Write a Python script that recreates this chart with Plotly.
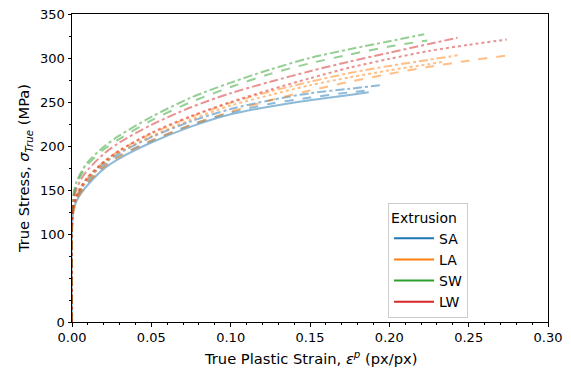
import plotly.graph_objects as go

# Strain grids (px/px) and true stress (MPa)
eps_a = [0, 0, 0.001, 0.003, 0.006, 0.01, 0.02, 0.03, 0.05, 0.075, 0.10, 0.125, 0.15, 0.175, 0.194]
sa_dashdot = [0, 110, 130, 142, 152, 162, 180, 192, 210, 228, 242, 252, 260, 265, 269]
eps_b = [0, 0, 0.001, 0.003, 0.006, 0.01, 0.02, 0.03, 0.05, 0.075, 0.10, 0.125, 0.15, 0.175, 0.186]
sa_dash = [0, 108, 129, 141, 150, 159, 177, 189, 206, 224, 238, 248, 255, 261, 263]
eps_c = [0, 0, 0.001, 0.003, 0.006, 0.01, 0.02, 0.03, 0.05, 0.075, 0.10, 0.125, 0.15, 0.175, 0.187]
sa_solid = [0, 105, 128, 138, 147, 156, 174, 186, 204, 222, 236, 245, 252, 258, 261]

eps_la1 = [0, 0, 0.001, 0.003, 0.006, 0.01, 0.02, 0.03, 0.05, 0.075, 0.10, 0.125, 0.15, 0.175, 0.20, 0.225, 0.243]
la_dashdot = [0, 110, 130, 143, 154, 164, 182, 195, 214, 233, 249, 262, 273, 283, 291, 298, 303]
eps_la2 = [0, 0, 0.001, 0.003, 0.006, 0.01, 0.02, 0.03, 0.05, 0.075, 0.10, 0.125, 0.15, 0.175, 0.20, 0.225, 0.235]
la_dot = [0, 108, 129, 141, 152, 162, 180, 193, 211, 230, 246, 258, 269, 278, 286, 293, 296]
eps_la3 = [0, 0, 0.001, 0.003, 0.006, 0.01, 0.02, 0.03, 0.05, 0.075, 0.10, 0.125, 0.15, 0.175, 0.20, 0.225, 0.25, 0.275]
la_dash = [0, 100, 126, 138, 148, 158, 176, 188, 206, 224, 239, 252, 263, 273, 282, 290, 297, 303]

eps_sw1 = [0, 0, 0.001, 0.003, 0.006, 0.01, 0.02, 0.03, 0.05, 0.075, 0.10, 0.125, 0.15, 0.175, 0.20, 0.222]
sw_dashdot = [0, 128, 146, 160, 171, 182, 199, 212, 233, 255, 272, 287, 300, 310, 319, 327]
eps_sw2 = [0, 0, 0.001, 0.003, 0.006, 0.01, 0.02, 0.03, 0.05, 0.075, 0.10, 0.125, 0.15, 0.175, 0.20, 0.224]
sw_dash = [0, 124, 143, 157, 168, 179, 196, 208, 229, 250, 267, 282, 294, 304, 313, 320]

eps_lw1 = [0, 0, 0.001, 0.003, 0.006, 0.01, 0.02, 0.03, 0.05, 0.075, 0.10, 0.125, 0.15, 0.175, 0.20, 0.225, 0.243]
lw_dashdot = [0, 120, 138, 152, 163, 173, 191, 204, 224, 244, 260, 273, 285, 296, 306, 316, 323]
eps_lw2 = [0, 0, 0.001, 0.003, 0.006, 0.01, 0.02, 0.03, 0.05, 0.075, 0.10, 0.125, 0.15, 0.175, 0.20, 0.225, 0.25, 0.274]
lw_dot = [0, 116, 132, 145, 155, 165, 182, 195, 215, 234, 250, 264, 277, 289, 299, 308, 315, 321]

groups = ["SA", "LA", "SW", "LW"]
colors = {"SA": "#1f77b4", "LA": "#ff7f0e", "SW": "#2ca02c", "LW": "#d62728"}

curves = [
    ("SA", eps_a, sa_dashdot, "dashdot"),
    ("SA", eps_b, sa_dash, "dash"),
    ("SA", eps_c, sa_solid, "solid"),
    ("LA", eps_la1, la_dashdot, "dashdot"),
    ("LA", eps_la2, la_dot, "dot"),
    ("LA", eps_la3, la_dash, "dash"),
    ("SW", eps_sw1, sw_dashdot, "dashdot"),
    ("SW", eps_sw2, sw_dash, "dash"),
    ("LW", eps_lw1, lw_dashdot, "dashdot"),
    ("LW", eps_lw2, lw_dot, "dot"),
]

fig = go.Figure()
for g, x, y, d in curves:
    fig.add_trace(go.Scatter(x=x, y=y, mode="lines", opacity=0.5,
                             line=dict(color=colors[g], width=2, dash=d,
                                       shape="spline", smoothing=0.8),
                             showlegend=False, hoverinfo="skip"))
for g in groups:
    fig.add_trace(go.Scatter(x=[None], y=[None], mode="lines", name=g,
                             line=dict(color=colors[g], width=2)))

font = "DejaVu Sans"
fig.update_layout(
    width=571, height=368,
    margin=dict(l=72, r=23, t=14, b=46),
    paper_bgcolor="white", plot_bgcolor="white",
    font=dict(family=font, size=13, color="black"),
    legend=dict(title=dict(text="Extrusion", font=dict(size=14)),
                font=dict(size=14),
                x=0.664, y=0.385, xanchor="left", yanchor="top",
                bordercolor="#cccccc", borderwidth=1, bgcolor="rgba(255,255,255,0.8)",
                tracegroupgap=0, itemwidth=40),
)
fig.add_annotation(text="True Plastic Strain, <i>ε<sup>p</sup></i> (px/px)",
                   xref="paper", yref="paper", x=0.5, y=0, xanchor="center", yanchor="top",
                   yshift=-24, showarrow=False, font=dict(size=14.7))
fig.update_xaxes(range=[0, 0.30], tickvals=[0, 0.05, 0.10, 0.15, 0.20, 0.25, 0.30],
                 ticktext=["0.00", "0.05", "0.10", "0.15", "0.20", "0.25", "0.30"],
                 ticks="outside", ticklen=3.5, tickcolor="black",
                 minor=dict(dtick=0.01, tick0=0, ticks="outside", ticklen=2, tickcolor="black"),
                 showline=True, linecolor="black", linewidth=1, mirror=True,
                 showgrid=False, zeroline=False, automargin=False,
                 ticklabeloverflow="allow")
fig.update_yaxes(range=[0, 350], tickvals=[0, 100, 150, 200, 250, 300, 350],
                 ticks="outside", ticklen=3.5, tickcolor="black",
                 minor=dict(dtick=25, tick0=0, ticks="outside", ticklen=2, tickcolor="black"),
                 showline=True, linecolor="black", linewidth=1, mirror=True,
                 showgrid=False, zeroline=False, automargin=False,
                 ticklabeloverflow="allow",
                 title=dict(text="True Stress, <i>σ<sub>True</sub></i> (MPa)", standoff=6,
                            font=dict(size=14.7)))

fig.write_html("out.html", config={"displayModeBar": False},
               post_script="document.body.style.margin='0';document.body.style.overflow='hidden';")
